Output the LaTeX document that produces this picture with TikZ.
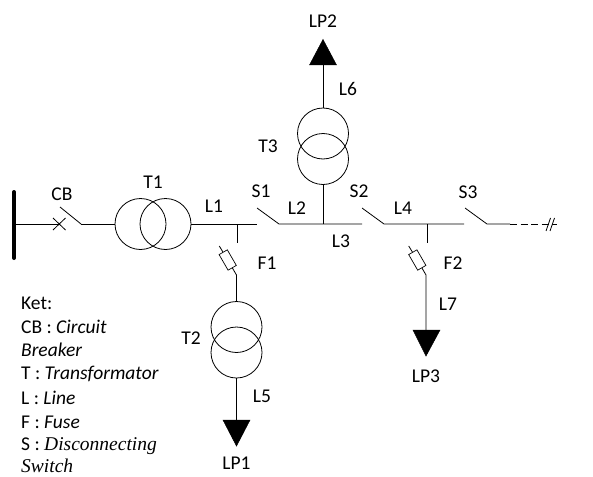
\documentclass[tikz,border=0pt]{standalone}
\usepackage{fontspec}
\setmainfont{Carlito}
\newfontfamily\keyserif{Liberation Serif}
\tikzset{
  wire/.style={line width=0.8pt},
  tag/.style={inner sep=0pt, font=\fontsize{19.5}{22}\selectfont},
  keyline/.style={tag, anchor=west},
  coil/.style={circle, draw, line width=0.8pt, minimum size=51pt, inner sep=0pt},
  fuse/.style={rectangle, draw, line width=0.7pt, minimum width=18pt, minimum height=9.5pt, inner sep=0pt, rotate=-60},
  load/.style={fill=black, draw=black, line width=0.5pt}
}
\begin{document}
\begin{tikzpicture}[x=1pt, y=-1pt]
  \useasboundingbox (0, 0) rectangle (593, 476);
  % busbar and breaker
  \coordinate (bustop) at (14, 192);
  \coordinate (busbot) at (14, 258);
  \coordinate (busmid) at (14, 224);
  \draw[line width=4pt, line cap=round] (bustop) -- (busbot);
  \coordinate (cbin) at (60, 224);
  \coordinate (cbblade) at (60, 207);
  \coordinate (cbout) at (81, 224);
  \coordinate (cba) at (53, 218);
  \coordinate (cbb) at (65.5, 230);
  \coordinate (cbc) at (53, 230);
  \coordinate (cbd) at (65.5, 218);
  \draw[wire] (busmid) -- (cbin);
  \draw[wire] (cba) -- (cbb);
  \draw[wire] (cbc) -- (cbd);
  \draw[wire] (cbblade) -- (cbout);
  % transformers
  \node[coil] (t1a) at (140.5, 224) {};
  \node[coil] (t1b) at (165.5, 224) {};
  \node[coil] (t2a) at (236.5, 327) {};
  \node[coil] (t2b) at (236.5, 352.5) {};
  \node[coil] (t3a) at (323, 133.5) {};
  \node[coil] (t3b) at (323, 159) {};
  \draw[wire] (cbout) -- (t1a.west);
  % main line
  \coordinate (s1in) at (257, 224);
  \coordinate (s1blade) at (257, 208);
  \coordinate (s1out) at (279, 224);
  \coordinate (s2in) at (362, 224);
  \coordinate (s2blade) at (362, 208);
  \coordinate (s2out) at (384, 224);
  \coordinate (s3in) at (464, 224);
  \coordinate (s3blade) at (465, 208);
  \coordinate (s3out) at (487, 224);
  \coordinate (dashin) at (510, 224);
  \coordinate (dashout) at (557, 224);
  \draw[wire] (t1b.east) -- (s1in);
  \draw[wire] (s1blade) -- (s1out) -- (s2in);
  \draw[wire] (s2blade) -- (s2out) -- (s3in);
  \draw[wire] (s3blade) -- (s3out) -- (dashin);
  \draw[wire, dashed, dash pattern=on 7pt off 3.5pt] (dashin) -- (dashout);
  \coordinate (cuta) at (546, 231);
  \coordinate (cutb) at (550.5, 218);
  \coordinate (cutc) at (550, 231);
  \coordinate (cutd) at (554.5, 218);
  \draw[wire] (cuta) -- (cutb);
  \draw[wire] (cutc) -- (cutd);
  % feeder to LP1
  \coordinate (tapa) at (237, 224);
  \coordinate (stuba) at (237, 243);
  \draw[wire] (tapa) -- (stuba);
  \coordinate (fusea) at (219.3, 246);
  \coordinate (bendb) at (236.5, 275);
  \node[fuse] (f1box) at (227.7, 260) {};
  \draw[wire] (fusea) -- (f1box);
  \draw[wire] (f1box) -- (bendb) -- (t2a.north);
  \coordinate (lpaleft) at (223, 420);
  \coordinate (lparight) at (250, 420);
  \coordinate (lpatip) at (236.5, 446);
  \coordinate (lpabase) at (236.5, 420);
  \draw[wire] (t2b.south) -- (lpabase);
  \draw[load] (lpaleft) -- (lparight) -- (lpatip) -- cycle;
  % feeder to LP2
  \coordinate (tapb) at (323, 224);
  \coordinate (lpbbase) at (323, 65);
  \coordinate (lpbleft) at (309.5, 65);
  \coordinate (lpbright) at (336.5, 65);
  \coordinate (lpbtip) at (323, 39.5);
  \draw[wire] (tapb) -- (t3b.south);
  \draw[wire] (t3a.north) -- (lpbbase);
  \draw[load] (lpbleft) -- (lpbright) -- (lpbtip) -- cycle;
  % feeder to LP3
  \coordinate (tapc) at (427, 224);
  \coordinate (stubc) at (427, 243);
  \draw[wire] (tapc) -- (stubc);
  \coordinate (fusec) at (408.7, 246);
  \coordinate (bendc) at (426, 275);
  \coordinate (lpcbase) at (426, 330);
  \coordinate (lpcleft) at (413, 330);
  \coordinate (lpcright) at (440, 330);
  \coordinate (lpctip) at (426, 356);
  \node[fuse] (f2box) at (417.3, 260) {};
  \draw[wire] (fusec) -- (f2box);
  \draw[wire] (f2box) -- (bendc) -- (lpcbase);
  \draw[load] (lpcleft) -- (lpcright) -- (lpctip) -- cycle;
  % labels
  \node[tag] (cblabel) at (62, 194) {CB};
  \node[tag] (t1label) at (153, 182) {T1};
  \node[tag] (l1label) at (214, 206) {L1};
  \node[tag] (s1label) at (261, 191) {S1};
  \node[tag] (l2label) at (297, 208) {L2};
  \node[tag] (l3label) at (341, 241) {L3};
  \node[tag] (s2label) at (359, 191) {S2};
  \node[tag] (l4label) at (403, 208) {L4};
  \node[tag] (s3label) at (468, 192) {S3};
  \node[tag] (f1label) at (267, 263) {F1};
  \node[tag] (f2label) at (453, 263) {F2};
  \node[tag] (t2label) at (191, 338) {T2};
  \node[tag] (t3label) at (268, 146) {T3};
  \node[tag] (l5label) at (262, 396) {L5};
  \node[tag] (l6label) at (348, 89) {L6};
  \node[tag] (l7label) at (448, 304) {L7};
  \node[tag] (lpalabel) at (236.5, 463) {LP1};
  \node[tag] (lpblabel) at (323, 21) {LP2};
  \node[tag] (lpclabel) at (426, 376) {LP3};
  % key
  \node[keyline] (keyhead) at (21, 303) {Ket:};
  \node[keyline] (keycb) at (21, 327) {CB : \textit{Circuit}};
  \node[keyline] (keycbb) at (21, 350) {\textit{Breaker}};
  \node[keyline] (keyt) at (21, 374) {T : \textit{Transformator}};
  \node[keyline] (keyl) at (21, 398) {L : \textit{Line}};
  \node[keyline] (keyf) at (21, 422) {F : \textit{Fuse}};
  \node[keyline] (keys) at (21, 446) {S : {\keyserif\itshape Disconnecting}};
  \node[keyline] (keysw) at (21, 466) {{\keyserif\itshape Switch}};
\end{tikzpicture}
\end{document}
